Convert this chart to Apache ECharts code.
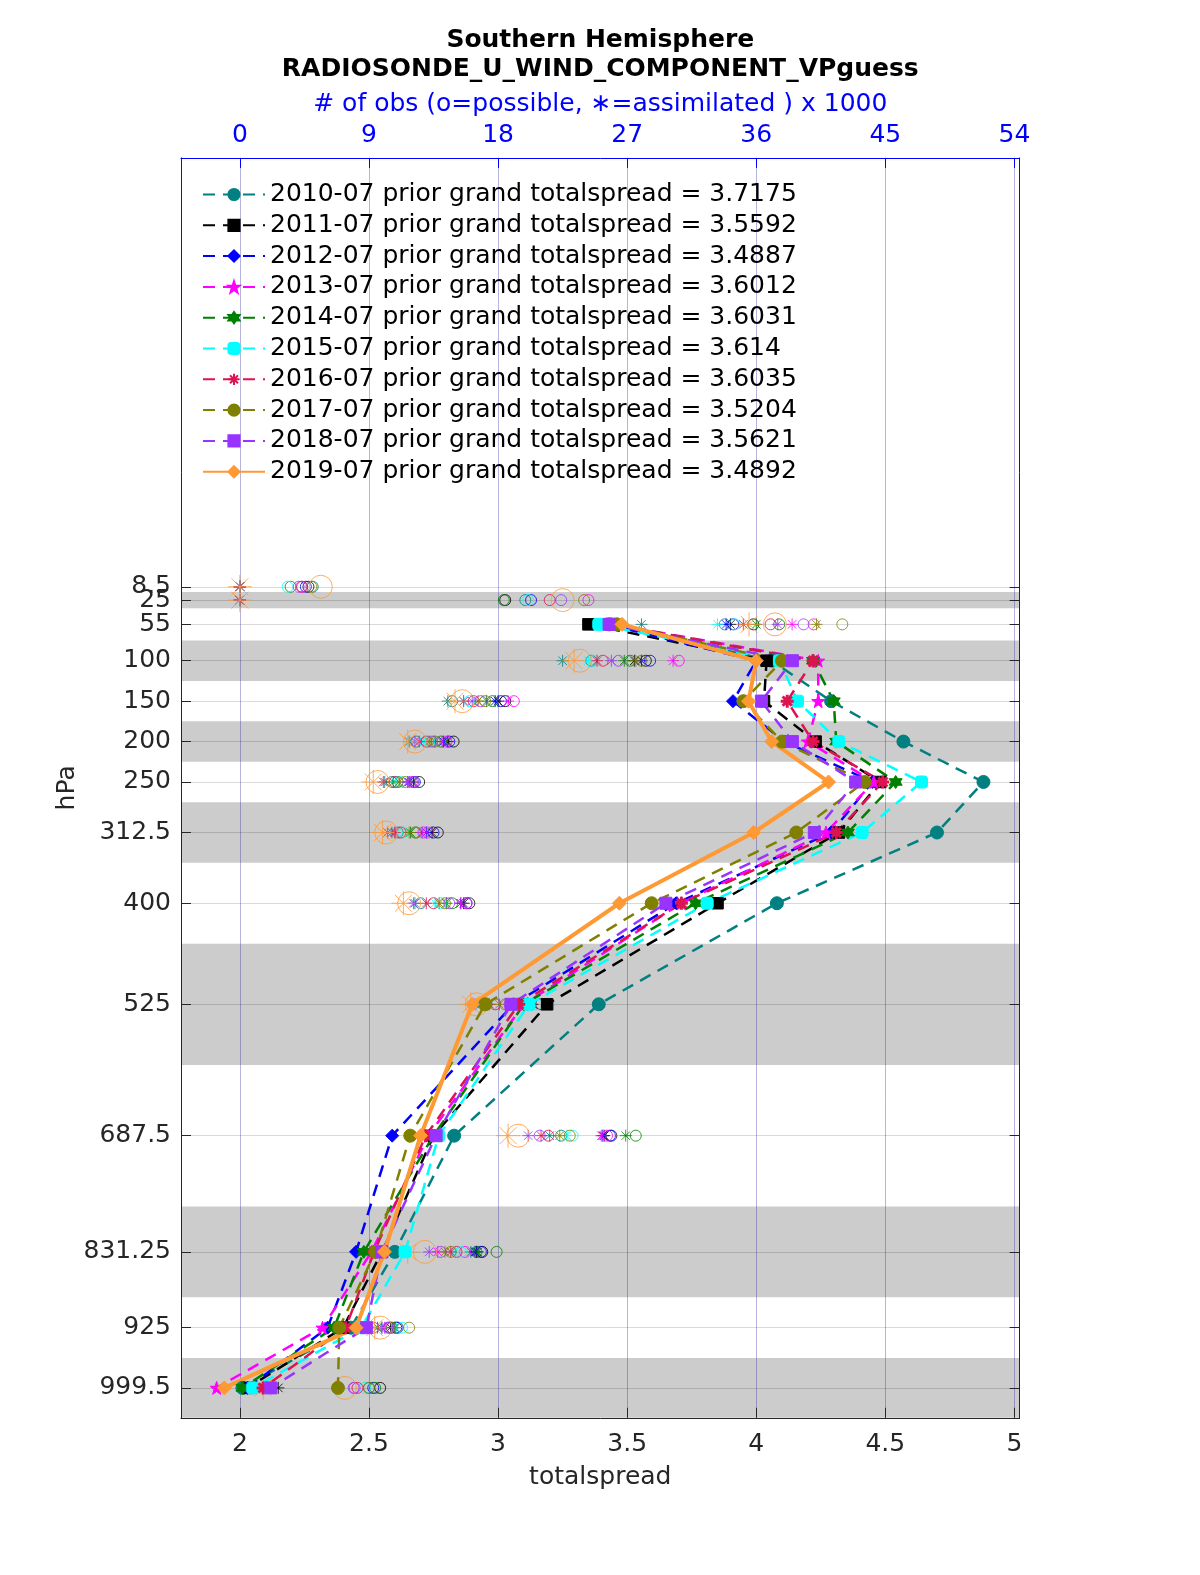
<!DOCTYPE html>
<html><head><meta charset="utf-8">
<script src="https://cdn.jsdelivr.net/npm/echarts@6/dist/echarts.min.js"></script>
<style>html,body{margin:0;padding:0;background:#fff;overflow:hidden;width:1200px;height:1575px}#c{position:absolute;left:0;top:0;width:1200px;height:1575px}</style>
</head><body><div id="c"></div>
<script>
// pressure levels (hPa)
const levels = [8.5, 25, 55, 100, 150, 200, 250, 312.5, 400, 525, 687.5, 831.25, 925, 999.5];
// bin edges shaded in grey
const bandEdges = [[15, 35], [75, 125], [175, 225], [275, 350], [450, 600], [775, 887.5], [962.5, 1036.5]];
const years = ['2010-07','2011-07','2012-07','2013-07','2014-07','2015-07','2016-07','2017-07','2018-07','2019-07'];
const grandSpread = ['3.7175','3.5592','3.4887','3.6012','3.6031','3.614','3.6035','3.5204','3.5621','3.4892'];
const bottomTicks = [2, 2.5, 3, 3.5, 4, 4.5, 5];
const topTicks = [0, 9, 18, 27, 36, 45, 54];

// totalspread per level
const spread_2010 = [null,null,3.43,4.06,4.29,4.57,4.88,4.70,4.08,3.39,2.83,2.60,2.43,2.01];
const spread_2011 = [null,null,3.35,4.04,4.03,4.23,4.48,4.32,3.85,3.19,2.75,2.55,2.40,2.03];
const spread_2012 = [null,null,3.42,4.00,3.91,4.11,4.45,4.29,3.69,3.06,2.59,2.45,2.34,2.03];
const spread_2013 = [null,null,3.45,4.24,4.24,4.20,4.455,4.27,3.71,3.10,2.73,2.51,2.32,1.91];
const spread_2014 = [null,null,3.44,4.22,4.30,4.31,4.54,4.355,3.765,3.10,2.75,2.48,2.365,2.01];
const spread_2015 = [null,null,3.39,4.09,4.16,4.32,4.64,4.41,3.81,3.12,2.77,2.64,2.47,2.05];
const spread_2016 = [null,null,3.44,4.22,4.12,4.22,4.49,4.31,3.71,3.08,2.72,2.52,2.41,2.09];
const spread_2017 = [null,null,3.46,4.10,3.95,4.10,4.42,4.155,3.595,2.95,2.66,2.525,2.385,2.38];
const spread_2018 = [null,null,3.43,4.14,4.02,4.14,4.385,4.225,3.65,3.05,2.76,2.55,2.49,2.12];
const spread_2019 = [null,null,3.48,4.00,3.97,4.06,4.28,3.99,3.47,2.90,2.70,2.56,2.45,1.94];

// # of obs possible (x1000)
const possible_2010 = [5.08,19.9,33.8,24.5,14.8,12.3,10.6,11.0,12.6,17.2,22.4,16.5,10.4,9.0];
const possible_2011 = [4.78,18.5,35.8,28.3,18.5,14.9,12.5,13.8,16.0,21.0,25.9,16.9,10.9,9.78];
const possible_2012 = [4.6,20.3,34.4,28.6,18.2,14.6,12.2,13.5,15.8,20.1,25.8,16.8,11.0,9.3];
const possible_2013 = [4.28,24.3,40.0,30.6,19.1,14.4,12.0,13.1,15.8,19.8,25.6,15.7,10.5,8.0];
const possible_2014 = [3.54,18.4,37.6,27.2,17.6,14.0,11.0,12.3,14.8,19.6,27.6,17.9,10.6,9.43];
const possible_2015 = [3.33,20.1,34.5,24.7,16.0,13.2,11.2,11.4,14.0,20.7,23.2,15.4,11.3,8.72];
const possible_2016 = [4.35,21.6,37.0,25.3,16.3,13.0,10.8,11.2,13.5,17.8,21.5,15.1,9.3,8.2];
const possible_2017 = [4.98,24.0,42.0,28.0,17.1,13.6,11.5,12.2,14.3,18.5,23.0,14.7,11.8,9.0];
const possible_2018 = [4.1,22.4,39.3,26.4,16.8,13.4,12.1,12.8,14.6,18.8,20.9,14.0,10.3,7.93];
const possible_2019 = [5.64,22.5,37.3,23.7,15.5,12.2,9.6,10.2,11.8,16.5,19.4,12.9,9.8,7.32];

// # of obs assimilated (x1000)
const assim_2010 = [0,0,28.0,22.5,14.5,11.8,10.1,10.6,12.2,16.8,21.6,16.1,9.9,2.0];
const assim_2011 = [0,0,34.2,27.5,18.0,14.5,12.1,13.4,15.6,20.4,25.4,16.5,10.5,2.68];
const assim_2012 = [0,0,33.9,28.0,17.8,14.2,11.8,13.0,15.4,19.6,25.3,16.4,10.8,2.1];
const assim_2013 = [0,0,38.5,30.2,18.7,14.1,11.7,12.7,15.4,19.3,25.2,13.8,10.1,1.9];
const assim_2014 = [0,0,36.0,26.8,17.2,13.6,10.7,11.9,14.4,19.2,26.9,16.6,9.6,2.2];
const assim_2015 = [0,0,33.3,24.3,15.6,12.8,10.9,11.0,13.6,19.0,22.8,15.0,10.9,2.0];
const assim_2016 = [0,0,35.1,24.9,15.6,12.5,10.0,10.8,13.0,17.4,21.0,14.7,8.9,1.8];
const assim_2017 = [0,0,40.2,27.6,16.6,13.2,11.1,11.8,13.9,18.1,22.3,14.3,10.8,2.1];
const assim_2018 = [0,0,37.5,25.9,16.2,12.2,11.7,10.3,12.1,16.4,20.1,13.2,9.9,1.6];
const assim_2019 = [0,0,35.5,23.3,15.0,11.7,9.3,9.95,11.4,16.1,18.7,11.7,9.4,1.63];

const spreads = [spread_2010,spread_2011,spread_2012,spread_2013,spread_2014,spread_2015,spread_2016,spread_2017,spread_2018,spread_2019];
const possibles = [possible_2010,possible_2011,possible_2012,possible_2013,possible_2014,possible_2015,possible_2016,possible_2017,possible_2018,possible_2019];
const assims = [assim_2010,assim_2011,assim_2012,assim_2013,assim_2014,assim_2015,assim_2016,assim_2017,assim_2018,assim_2019];

const colors = ['#008080','#000000','#0000ff','#ff00ff','#008000','#00ffff','#dc1450','#808000','#9933ff','#ff9933'];
const STAR5 = 'path://M0,-10L2.35,-3.24L9.51,-3.09L3.8,1.24L5.88,8.09L0,4L-5.88,8.09L-3.8,1.24L-9.51,-3.09L-2.35,-3.24Z';
const HEXA = 'path://M0,-10L2.9,-5L8.66,-5L5.8,0L8.66,5L2.9,5L0,10L-2.9,5L-8.66,5L-5.8,0L-8.66,-5L-2.9,-5Z';
const AST = 'path://M0,-10L0,10M-10,0L10,0M-7.07,-7.07L7.07,7.07M-7.07,7.07L7.07,-7.07';
const lineSymbols = ['circle','rect','diamond',STAR5,HEXA,'roundRect',AST,'circle','rect','diamond'];
const lineSymbolSizes = [13, 11.5, 13, 13, 13, 12, 13, 13, 12, 14];

const FONT = 'DejaVu Sans';
const FS = 25;
const labelsA = levels.filter((p, i) => i % 2 === 0);
const labelsB = levels.filter((p, i) => i % 2 === 1);
const series = [];

// grey bands + horizontal grid lines
series.push({
  type:'line', name:'_bands', xAxisIndex:0, yAxisIndex:0, data:[], silent:true,
  markArea:{ silent:true, z:0.5, itemStyle:{color:'#cccccc'}, label:{show:false},
    data: bandEdges.map(e => [{yAxis:e[0]}, {yAxis:e[1]}]) },
  markLine:{ silent:true, z:1, symbol:['none','none'], label:{show:false}, animation:false,
    lineStyle:{type:'solid', width:1, color:'rgba(0,0,0,0.15)'},
    data: levels.map(p => ({yAxis:p})) }
});
// vertical grid lines from top axis
series.push({
  type:'line', name:'_vgrid', xAxisIndex:1, yAxisIndex:0, data:[], silent:true,
  markLine:{ silent:true, z:1, symbol:['none','none'], label:{show:false}, animation:false,
    lineStyle:{type:'solid', width:1, color:'rgba(40,40,160,0.35)'},
    data: topTicks.map(v => ({xAxis:v})) }
});

// obs scatter
for (let k = 0; k < years.length; k++) {
  const big = k === 9;
  series.push({
    type:'scatter', name:'_poss'+k, xAxisIndex:1, yAxisIndex:0, z:2,
    symbol:'circle', symbolSize: big ? 23 : 11,
    itemStyle:{color:'transparent', borderColor:colors[k], borderWidth:1},
    data: levels.map((p,i) => [possibles[k][i], p])
  });
  series.push({
    type:'scatter', name:'_assim'+k, xAxisIndex:1, yAxisIndex:0, z:2,
    symbol:AST, symbolSize: big ? 24 : 12,
    itemStyle:{color:'transparent', borderColor:colors[k], borderWidth:1},
    data: levels.map((p,i) => [assims[k][i], p])
  });
}

// spread lines
const legendNames = [];
for (let k = 0; k < years.length; k++) {
  const nm = years[k] + ' prior grand totalspread = ' + grandSpread[k];
  legendNames.push(nm);
  const last = k === 9;
  const d = [];
  levels.forEach((p,i) => { if (spreads[k][i] !== null) d.push([spreads[k][i], p]); });
  series.push({
    type:'line', name:nm, xAxisIndex:0, yAxisIndex:0, z:3,
    data:d, symbol:lineSymbols[k], symbolSize: lineSymbolSizes[k], showSymbol:true,
    lineStyle:{color:colors[k], width: last ? 4 : 2.5, type: last ? 'solid' : [12, 8]},
    itemStyle:{color:colors[k], borderColor:colors[k], borderWidth: (k===6) ? 3 : 1},
    emphasis:{disabled:true}
  });
}

const yBase = { type:'value', inverse:true, min:-522, max:1036.5, z:4, splitLine:{show:false} };

const chart = echarts.init(document.getElementById('c'), null, {renderer:'canvas'});
chart.setOption({
  animation:false,
  backgroundColor:'#ffffff',
  textStyle:{fontFamily:FONT},
  grid:{left:181, right:180.4, top:157.9, bottom:157.2, containLabel:false},
  graphic:[
    {type:'text', x:600.3, y:40.3, z:10, style:{text:'Southern Hemisphere', font:'bold 25px "DejaVu Sans"', fill:'#000', align:'center', verticalAlign:'middle', textAlign:'center', textVerticalAlign:'middle'}},
    {type:'text', x:600.3, y:69.5, z:10, style:{text:'RADIOSONDE_U_WIND_COMPONENT_VPguess', font:'bold 25px "DejaVu Sans"', fill:'#000', align:'center', verticalAlign:'middle', textAlign:'center', textVerticalAlign:'middle'}}
  ],
  legend:{
    data:legendNames, orient:'vertical', left:197, top:177, itemWidth:62, itemHeight:14, itemGap:5.8,
    textStyle:{fontSize:FS, color:'#000', fontFamily:FONT, lineHeight:25},
    backgroundColor:'transparent', selectedMode:false, z:10
  },
  xAxis:[
    { type:'value', position:'bottom', min:1.772, max:5.02, z:4,
      name:'totalspread', nameLocation:'middle', nameGap:47,
      nameTextStyle:{fontSize:FS, color:'#262626', fontFamily:FONT},
      axisLine:{show:true, onZero:false, lineStyle:{color:'#262626', width:1}},
      axisTick:{show:true, inside:true, length:10, customValues:bottomTicks, lineStyle:{color:'#262626'}},
      axisLabel:{customValues:bottomTicks, fontSize:FS, color:'#262626', margin:14, fontFamily:FONT, hideOverlap:false},
      splitLine:{show:false} },
    { type:'value', position:'top', min:-4.104, max:54.36, z:4,
      name:'# of obs (o=possible, \u2217=assimilated ) x 1000', nameLocation:'middle', nameGap:41,
      nameTextStyle:{fontSize:FS, color:'#0000ff', fontFamily:FONT},
      axisLine:{show:true, onZero:false, lineStyle:{color:'#0000ff', width:1}},
      axisTick:{show:true, inside:true, length:10, customValues:topTicks, lineStyle:{color:'#0000ff'}},
      axisLabel:{customValues:topTicks, fontSize:FS, color:'#0000ff', margin:10, fontFamily:FONT, hideOverlap:false},
      splitLine:{show:false} }
  ],
  yAxis:[
    Object.assign({}, yBase, { position:'left',
      name:'hPa', nameLocation:'middle', nameGap:101, nameRotate:90,
      nameTextStyle:{fontSize:FS, color:'#262626', fontFamily:FONT},
      axisLine:{show:true, onZero:false, lineStyle:{color:'#262626', width:1}},
      axisTick:{show:true, inside:true, length:10, customValues:levels, lineStyle:{color:'#262626'}},
      axisLabel:{customValues:labelsA, fontSize:FS, color:'#262626', margin:10, fontFamily:FONT, hideOverlap:false, showMinLabel:true, showMaxLabel:true} }),
    Object.assign({}, yBase, { position:'right',
      axisLine:{show:true, onZero:false, lineStyle:{color:'#262626', width:1}},
      axisTick:{show:true, inside:true, length:10, customValues:levels, lineStyle:{color:'#262626'}},
      axisLabel:{show:false} }),
    Object.assign({}, yBase, { position:'left', offset:0,
      axisLine:{show:false, onZero:false},
      axisTick:{show:false, customValues:labelsB},
      axisLabel:{customValues:labelsB, fontSize:FS, color:'#262626', margin:10, fontFamily:FONT, hideOverlap:false, showMinLabel:true, showMaxLabel:true} })
  ],
  series: series
});
</script></body></html>
